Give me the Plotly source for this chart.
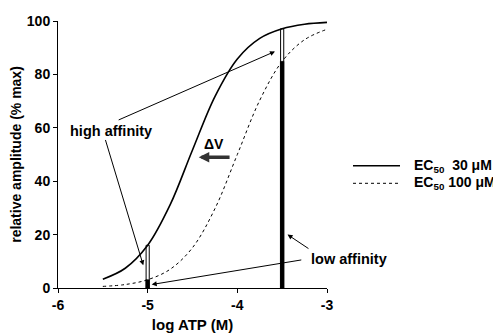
import plotly.graph_objects as go

# --- data ---
log_atp = [-5.5, -5.25, -5.0, -4.75, -4.5, -4.25, -4.0, -3.75, -3.5, -3.25, -3.0]
ec50_30 = [3.3, 7.4, 16.0, 31.1, 51.7, 71.7, 85.8, 93.5, 97.1, 98.8, 99.5]
ec50_100 = [0.6, 1.3, 3.1, 7.0, 15.1, 29.7, 50.0, 70.3, 84.9, 93.0, 96.9]

bar_x = [-5.0, -3.5]
bar_high_ec = [16.0, 97.1]   # open bars (EC50 30 uM)
bar_low_ec = [3.1, 84.9]     # filled bars (EC50 100 uM)

x_ticks = [-6, -5, -4, -3]
y_ticks = [0, 20, 40, 60, 80, 100]

FONT = "Liberation Sans, Arial, Helvetica, sans-serif"

fig = go.Figure()
fig.add_trace(go.Scatter(x=log_atp, y=ec50_30, mode="lines",
                         line=dict(color="black", width=1.6, shape="spline"),
                         showlegend=False))
fig.add_trace(go.Scatter(x=log_atp, y=ec50_100, mode="lines",
                         line=dict(color="black", width=1, dash="dot", shape="spline"),
                         showlegend=False))
fig.add_trace(go.Bar(x=bar_x, y=bar_high_ec, width=0.035,
                     marker=dict(color="white", line=dict(color="black", width=1)),
                     showlegend=False))
fig.add_trace(go.Bar(x=bar_x, y=bar_low_ec, width=0.04,
                     marker=dict(color="black", line=dict(color="black", width=0.5)),
                     showlegend=False))

anns = []
# text labels
anns.append(dict(x=-5.404, y=58.8, xref="x", yref="y", text="high affinity",
                 showarrow=False, font=dict(size=14.5)))
anns.append(dict(x=-3.2, y=11, xref="x", yref="y", text="low affinity",
                 showarrow=False, xanchor="left", font=dict(size=14.5)))
anns.append(dict(x=-4.26, y=53.8, xref="x", yref="y", text="ΔV",
                 showarrow=False, font=dict(size=14)))
# arrows
def arrow(x0, y0, x1, y1, width=1, color="black", head=2, size=1):
    return dict(x=x1, y=y1, ax=x0, ay=y0, xref="x", yref="y", axref="x", ayref="y",
                text="", showarrow=True, arrowhead=head, arrowsize=size,
                arrowwidth=width, arrowcolor=color)
anns.append(arrow(-5.34, 62.7, -3.58, 88.6))
anns.append(arrow(-5.476, 56.0, -5.049, 8.5))
anns.append(arrow(-3.19, 14.4, -3.44, 20.0))
anns.append(arrow(-3.27, 10.6, -4.955, 1.3))
anns.append(arrow(-4.07, 49.0, -4.43, 49.0, width=3.5, color="#333", head=2, size=0.6))

# manual legend (positions given in page pixels of the plot area)
leg_items = [("EC<sub>50</sub>  30 μM", 165.7, "solid", 1.5),
             ("EC<sub>50</sub> 100 μM", 183.3, "dot", 1)]
L, T, W, H = 58, 21, 269, 267
shapes = []
for txt, ypx, dash, w in leg_items:
    yp = 1 - (ypx - T) / H
    shapes.append(dict(type="line", xref="paper", yref="paper",
                       x0=(353 - L) / W, x1=(400 - L) / W, y0=yp, y1=yp,
                       line=dict(color="black", width=w, dash=dash)))
    anns.append(dict(x=(412 - L) / W, y=yp, xref="paper", yref="paper", text=txt,
                     showarrow=False, xanchor="left", yanchor="middle",
                     font=dict(size=14)))

# the page body has an 8px default margin; size the figure to compensate
fig.update_layout(
    width=493, height=326,
    margin=dict(l=50, r=174, t=13, b=46),
    paper_bgcolor="white", plot_bgcolor="white",
    font=dict(family=FONT, size=14, color="black", weight="bold"),
    barmode="overlay", showlegend=False,
    annotations=anns, shapes=shapes,
    xaxis=dict(range=[-6, -3], tickvals=x_ticks, ticktext=[str(v) for v in x_ticks],
               showline=True, linecolor="black", linewidth=1, ticks="outside",
               ticklen=4, tickcolor="black", showgrid=False, zeroline=False,
               automargin=False, tickfont=dict(size=14),
               title=dict(text="log ATP (M)", standoff=7, font=dict(size=15))),
    yaxis=dict(range=[0, 100], tickvals=y_ticks, showline=True, linecolor="black",
               linewidth=1, ticks="outside", ticklen=4, tickcolor="black",
               showgrid=False, zeroline=False, automargin=False,
               tickfont=dict(size=14),
               title=dict(text="relative amplitude (% max)", standoff=3,
                          font=dict(size=14))),
)

fig.write_html("out.html")
